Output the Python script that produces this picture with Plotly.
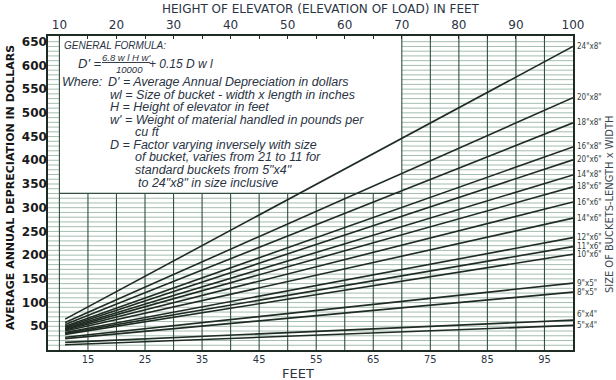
import plotly.graph_objects as go

# ---------------- data ----------------
bucket_sizes = ['24"x8"', '20"x8"', '18"x8"', '16"x8"', '20"x6"', '14"x8"', '18"x6"', '16"x6"',
                '14"x6"', '12"x6"', '11"x6"', '10"x6"', '9"x5"', '8"x5"', '6"x4"', '5"x4"']
height_start = 11
height_end = 100
dep_at_start = [65, 58, 54, 50, 48, 46, 44, 42, 40, 37, 35, 33, 27, 24, 16, 11]
dep_at_end = [640, 532, 479, 428, 401, 369, 344, 312, 278, 237, 218, 202, 141, 122, 63, 52]

top_ticks = [10, 20, 30, 40, 50, 60, 70, 80, 90, 100]
bottom_ticks = [15, 25, 35, 45, 55, 65, 75, 85, 95]
y_ticks = [50, 100, 150, 200, 250, 300, 350, 400, 450, 500, 550, 600, 650]

formula_lines = [
    "Where:",
    "D' = Average Annual Depreciation in dollars",
    "wl = Size of bucket - width x length in inches",
    "H = Height of elevator in feet",
    "w' = Weight of material handled in pounds per",
    "cu ft",
    "D = Factor varying inversely with size",
    "of bucket, varies from 21 to 11 for",
    "standard buckets from 5\"x4\"",
    "to 24\"x8\" in size inclusive",
]

# ---------------- geometry / style ----------------
X_MIN, X_MAX = 8, 100
Y_MIN, Y_MAX = 0, 662
BOX_X, BOX_Y = 70, 330
L, R, T, B = 48, 43, 36, 30
W, H = 616, 380
PW, PH = W - L - R, H - T - B

INK = "#1f2c24"
GRID_H = "rgba(70,120,90,0.55)"
GRID_V = "#34503f"
TXT = "#2b3444"


def P(px, py):
    return (px - L) / PW, (H - B - py) / PH


fig = go.Figure()

# horizontal grid
gx, gy = [], []
for v in range(10, 660, 10):
    if v <= BOX_Y:
        gx += [X_MIN, X_MAX, None]
        gy += [v, v, None]
    else:
        gx += [X_MIN, 10, None, BOX_X, X_MAX, None]
        gy += [v, v, None, v, v, None]
fig.add_trace(go.Scatter(x=gx, y=gy, mode="lines", line=dict(color=GRID_H, width=0.9),
                         hoverinfo="skip", showlegend=False))

# vertical grid
vx, vy = [], []
for h in range(10, 100, 5):
    top = Y_MAX if (h >= BOX_X or h == 10) else BOX_Y
    vx += [h, h, None]
    vy += [0, top, None]
fig.add_trace(go.Scatter(x=vx, y=vy, mode="lines", line=dict(color=GRID_V, width=1.1),
                         hoverinfo="skip", showlegend=False))
# box bottom edge
fig.add_trace(go.Scatter(x=[10, BOX_X], y=[BOX_Y, BOX_Y], mode="lines",
                         line=dict(color=GRID_V, width=1.2), hoverinfo="skip", showlegend=False))

# depreciation lines
for name, s, e in zip(bucket_sizes, dep_at_start, dep_at_end):
    fig.add_trace(go.Scatter(x=[height_start, height_end], y=[s, e], mode="lines",
                             line=dict(color=INK, width=1.6), name=name, showlegend=False))

# invisible trace for top axis
fig.add_trace(go.Scatter(x=[X_MIN, X_MAX], y=[0, 0], xaxis="x2", mode="lines",
                         line=dict(width=0), hoverinfo="skip", showlegend=False))

ann = []
# line-end labels
for name, e in zip(bucket_sizes, dep_at_end):
    ann.append(dict(x=X_MAX, y=e, xref="x", yref="y", text=name, showarrow=False,
                    xanchor="left", yanchor="middle", xshift=2,
                    yshift=6 if name == '6"x4"' else 0,
                    font=dict(family="Liberation Sans Narrow, DejaVu Sans Condensed, Liberation Sans",
                              size=8, color="#33423a")))

# formula box text
def add_text(txt, px, py, size=12, anchor="left", style="italic", weight="normal"):
    x, y = P(px, py)
    ann.append(dict(x=x, y=y, xref="paper", yref="paper", text=txt, showarrow=False,
                    xanchor=anchor, yanchor="middle",
                    font=dict(family="Liberation Sans", size=size, color=TXT, style=style,
                              weight=weight)))

add_text("GENERAL FORMULA:", 62, 45, size=10)
add_text("D' =", 76, 64, size=13)
add_text("<u>6.8 w l H w'</u>", 126, 57, size=9.5, anchor="center")
add_text("10000", 129, 69, size=9.5, anchor="center")
add_text("+ 0.15 D w l", 147, 64, size=12)

pos = [(60, 82), (106, 82), (108, 95), (108, 107), (108, 120), (133, 132),
       (108, 145), (133, 157), (133, 170), (136, 183)]
for txt, (px, py) in zip(formula_lines, pos):
    add_text(txt, px, py, size=12.5)


def add_title(txt, px, py, font, angle=0):
    x, y = P(px, py)
    ann.append(dict(x=x, y=y, xref="paper", yref="paper", showarrow=False, textangle=angle,
                    xanchor="center", yanchor="middle", text=txt, font=font))


add_title("HEIGHT OF ELEVATOR (ELEVATION OF LOAD) IN FEET", 321, 9,
          dict(family="DejaVu Sans", size=12, color=TXT))
add_title("FEET", 298, 373, dict(family="DejaVu Sans", size=13, color=TXT))
add_title("AVERAGE ANNUAL DEPRECIATION IN DOLLARS", 10, 188,
          dict(family="DejaVu Sans", size=11, color="#151515", weight="bold"), angle=-90)
add_title("SIZE OF BUCKETS-LENGTH x WIDTH", 609, 205,
          dict(family="DejaVu Sans Condensed, DejaVu Sans", size=11, color="#3a4652"), angle=-90)

fig.update_layout(
    width=W, height=H,
    margin=dict(l=L, r=R, t=T, b=B, pad=0, autoexpand=False),
    paper_bgcolor="white", plot_bgcolor="white",
    showlegend=False,
    annotations=ann,
    xaxis=dict(range=[X_MIN, X_MAX], tickvals=bottom_ticks, ticks="", showgrid=False,
               automargin=False, ticklabelstandoff=-2,
               zeroline=False, showline=True, mirror=True, linecolor=INK, linewidth=1.5,
               tickfont=dict(family="DejaVu Sans Condensed, DejaVu Sans", size=11, color=TXT)),
    xaxis2=dict(range=[X_MIN, X_MAX], overlaying="x", side="top", matches="x",
                automargin=False, ticklabelstandoff=4,
                tickvals=top_ticks, ticks="", showgrid=False, zeroline=False,
                tickfont=dict(family="DejaVu Sans", size=12, color=TXT),
                minor=dict(ticks="inside", dtick=5, tick0=0, ticklen=3, tickcolor=INK)),
    yaxis=dict(range=[Y_MIN, Y_MAX], tickvals=y_ticks, ticks="", showgrid=False,
               automargin=False, ticklabelstandoff=-3,
               zeroline=False, showline=True, mirror=True, linecolor=INK, linewidth=1.5,
               tickfont=dict(family="DejaVu Sans", size=12, color="#1a1a1a", weight="bold")),
)

fig.write_html("out.html", config={"displayModeBar": False},
               post_script="document.body.style.margin='0';")
